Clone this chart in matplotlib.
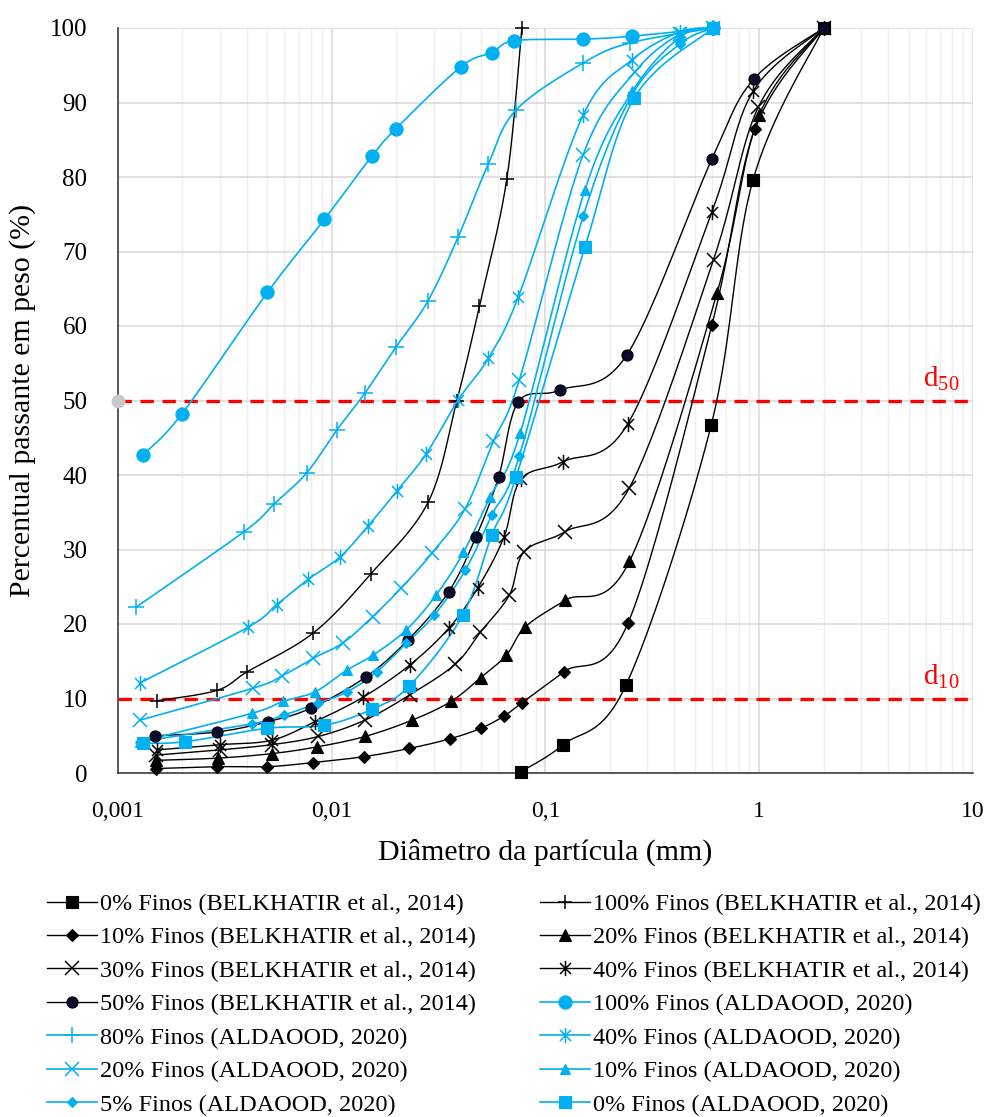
import numpy as np
import matplotlib
matplotlib.use("Agg")
import matplotlib.pyplot as plt
from matplotlib.lines import Line2D
from matplotlib.path import Path
from matplotlib.ticker import FixedLocator, LogLocator, NullFormatter

plt.rcParams['font.family'] = ['Liberation Serif', 'DejaVu Serif']
plt.rcParams['mathtext.fontset'] = 'custom'
plt.rcParams['mathtext.rm'] = 'Liberation Serif'
plt.rcParams['mathtext.it'] = 'Liberation Serif:italic'

BLUE = '#00B0F0'
BLACK = '#000000'
NAVY = '#0B0B2E'

# ---------------- data (diameter mm, % passing) ----------------
b0_x = [0.077, 0.121, 0.238, 0.596, 0.935, 2.0]
b0_y = [0.2, 3.8, 11.8, 46.7, 79.6, 100]

b10_x = [0.0015, 0.0029, 0.005, 0.0082, 0.0142, 0.0231, 0.0358, 0.0498, 0.064, 0.0774, 0.122, 0.243, 0.600, 0.957, 2.0]
b10_y = [0.6, 0.85, 0.85, 1.4, 2.2, 3.3, 4.6, 6.0, 7.65, 9.4, 13.6, 20.1, 60.1, 86.5, 100]

b20_x = [0.00151, 0.00294, 0.00524, 0.00851, 0.0143, 0.0238, 0.0361, 0.0498, 0.0655, 0.0804, 0.1236, 0.247, 0.634, 1.0, 2.0]
b20_y = [1.7, 2.0, 2.6, 3.5, 4.9, 7.1, 9.6, 12.8, 15.8, 19.6, 23.2, 28.4, 64.4, 88.3, 100]

b30_x = [0.00151, 0.0030, 0.00524, 0.00865, 0.0143, 0.0232, 0.0378, 0.0496, 0.0678, 0.0794, 0.1236, 0.246, 0.611, 0.991, 2.0]
b30_y = [2.4, 3.1, 3.8, 4.9, 7.1, 10.5, 14.6, 18.9, 23.9, 29.7, 32.4, 38.2, 68.9, 89.4, 100]

b40_x = [0.00152, 0.0030, 0.00524, 0.00836, 0.01406, 0.0232, 0.0352, 0.0481, 0.064, 0.0767, 0.1213, 0.243, 0.600, 0.936, 2.0]
b40_y = [3.1, 3.8, 4.4, 6.9, 10.2, 14.5, 19.4, 24.8, 31.7, 39.4, 41.8, 46.9, 75.3, 91.5, 100]

b50_x = [0.00149, 0.0029, 0.00505, 0.00798, 0.01446, 0.0228, 0.0352, 0.0473, 0.0603, 0.0746, 0.117, 0.240, 0.600, 0.94, 2.0]
b50_y = [5.0, 5.5, 6.9, 8.7, 12.9, 17.9, 24.3, 31.7, 39.7, 49.8, 51.4, 56.1, 82.4, 93.1, 100]

b100_x = [0.00153, 0.00291, 0.00403, 0.0082, 0.0152, 0.0283, 0.0385, 0.0491, 0.0659, 0.0775]
b100_y = [9.7, 11.1, 13.6, 18.8, 26.7, 36.4, 50.0, 62.7, 79.7, 100]

a100_x = [0.00131, 0.00199, 0.0050, 0.00923, 0.0154, 0.0200, 0.0402, 0.0560, 0.0716, 0.150, 0.253, 0.61]
a100_y = [42.7, 48.2, 64.5, 74.3, 82.8, 86.5, 94.8, 96.7, 98.3, 98.5, 98.9, 100]

a80_x = [0.00122, 0.00389, 0.00537, 0.00764, 0.0106, 0.0143, 0.0200, 0.0281, 0.0391, 0.0541, 0.0728, 0.150, 0.249, 0.61]
a80_y = [22.3, 32.4, 36.1, 40.3, 46.1, 51.0, 57.2, 63.3, 72.0, 81.8, 89.0, 95.3, 98.0, 100]

a40_x = [0.00127, 0.00407, 0.00553, 0.00776, 0.01094, 0.01472, 0.0201, 0.0276, 0.0391, 0.0541, 0.0746, 0.150, 0.253, 0.427, 0.61]
a40_y = [12.1, 19.6, 22.6, 26.0, 29.0, 33.1, 37.8, 42.8, 50.1, 55.7, 63.9, 88.3, 95.7, 99.5, 100]

a20_x = [0.00127, 0.0043, 0.00583, 0.0082, 0.01133, 0.01556, 0.0211, 0.0294, 0.0421, 0.0570, 0.0755, 0.150, 0.262, 0.427, 0.61]
a20_y = [7.1, 11.4, 13.0, 15.4, 17.5, 21.0, 24.8, 29.5, 35.5, 44.5, 52.8, 83.0, 94.1, 99.2, 100]

a10_x = [0.00127, 0.00422, 0.0059, 0.00836, 0.01175, 0.01556, 0.0223, 0.0308, 0.0413, 0.0551, 0.0761, 0.153, 0.255, 0.427, 0.61]
a10_y = [4.2, 8.0, 9.6, 10.9, 13.8, 15.8, 19.2, 23.9, 29.6, 37.1, 45.6, 78.3, 91.5, 98.8, 100]

a5_x = [0.00127, 0.00422, 0.0060, 0.00865, 0.01183, 0.01626, 0.0223, 0.0302, 0.0421, 0.0560, 0.0755, 0.150, 0.254, 0.427, 0.61]
a5_y = [4.2, 6.6, 7.8, 9.4, 10.9, 13.6, 17.4, 21.2, 27.2, 34.6, 42.6, 74.7, 91.0, 97.9, 100]

a0_x = [0.00131, 0.00206, 0.00497, 0.0092, 0.0154, 0.0231, 0.0410, 0.0560, 0.0728, 0.153, 0.260, 0.61]
a0_y = [4.0, 4.2, 6.0, 6.4, 8.55, 11.7, 21.2, 31.9, 39.7, 70.6, 90.6, 100]

stray_x = [0.001]
stray_y = [50]

ref_levels = [50, 10]
ref_labels = ['50', '10']

x_ticks = [0.001, 0.01, 0.1, 1, 10]
x_tick_labels = ['0,001', '0,01', '0,1', '1', '10']
y_ticks = list(range(0, 101, 10))

# asterisk marker (vertical bar + x)
AST = Path([(0, -1), (0, 1), (-0.72, -0.72), (0.72, 0.72), (-0.72, 0.72), (0.72, -0.72)],
           [Path.MOVETO, Path.LINETO, Path.MOVETO, Path.LINETO, Path.MOVETO, Path.LINETO])

series = [
    (b0_x, b0_y, '0% Finos (BELKHATIR et al., 2014)', BLACK, 's', 8, BLACK),
    (b100_x, b100_y, '100% Finos (BELKHATIR et al., 2014)', BLACK, '+', 10, BLACK),
    (b10_x, b10_y, '10% Finos (BELKHATIR et al., 2014)', BLACK, 'D', 6, BLACK),
    (b20_x, b20_y, '20% Finos (BELKHATIR et al., 2014)', BLACK, '^', 9, BLACK),
    (b30_x, b30_y, '30% Finos (BELKHATIR et al., 2014)', BLACK, 'x', 10, BLACK),
    (b40_x, b40_y, '40% Finos (BELKHATIR et al., 2014)', BLACK, AST, 11, BLACK),
    (b50_x, b50_y, '50% Finos (BELKHATIR et al., 2014)', BLACK, 'o', 8, NAVY),
    (a100_x, a100_y, '100% Finos (ALDAOOD, 2020)', BLUE, 'o', 9.5, BLUE),
    (a80_x, a80_y, '80% Finos (ALDAOOD, 2020)', BLUE, '+', 11, BLUE),
    (a40_x, a40_y, '40% Finos (ALDAOOD, 2020)', BLUE, AST, 11, BLUE),
    (a20_x, a20_y, '20% Finos (ALDAOOD, 2020)', BLUE, 'x', 10, BLUE),
    (a10_x, a10_y, '10% Finos (ALDAOOD, 2020)', BLUE, '^', 7.5, BLUE),
    (a5_x, a5_y, '5% Finos (ALDAOOD, 2020)', BLUE, 'D', 5, BLUE),
    (a0_x, a0_y, '0% Finos (ALDAOOD, 2020)', BLUE, 's', 8.5, BLUE),
]


def smooth(xs, ys, n=24):
    u = np.log10(np.asarray(xs, float))
    v = np.asarray(ys, float)
    P = np.column_stack([u, v])
    P = np.vstack([P[0], P, P[-1]])
    t = np.linspace(0, 1, n)[:, None]
    segs = []
    for i in range(1, len(P) - 2):
        p0, p1, p2, p3 = P[i - 1], P[i], P[i + 1], P[i + 2]
        c1 = p1 + (p2 - p0) / 6.0
        c2 = p2 - (p3 - p1) / 6.0
        seg = (1 - t) ** 3 * p1 + 3 * (1 - t) ** 2 * t * c1 + 3 * (1 - t) * t ** 2 * c2 + t ** 3 * p2
        segs.append(seg if i == 1 else seg[1:])
    S = np.vstack(segs)
    return 10 ** S[:, 0], S[:, 1]


W, H = 995, 1117
fig = plt.figure(figsize=(W / 100, H / 100), dpi=100)
ax = fig.add_axes([118 / W, 1 - 773 / H, (973 - 118) / W, (773 - 28) / H])
ax.set_xscale('log')
ax.set_xlim(0.001, 10)
ax.set_ylim(0, 100)

# grid
ax.xaxis.set_major_locator(FixedLocator(x_ticks))
ax.xaxis.set_minor_locator(LogLocator(base=10, subs=np.arange(2, 10)))
ax.xaxis.set_minor_formatter(NullFormatter())
ax.set_xticks(x_ticks)
ax.set_xticklabels(x_tick_labels)
ax.set_yticks(y_ticks)
ax.grid(which='major', axis='both', color='#D9D9D9', lw=1.1, zorder=0)
ax.grid(which='minor', axis='x', color='#EEEEEE', lw=1.0, zorder=0)
ax.set_axisbelow(True)
ax.tick_params(which='both', length=0)
ax.tick_params(axis='x', labelsize=17, pad=20)
ax.tick_params(axis='y', labelsize=18, pad=22)
for s in ['top', 'right']:
    ax.spines[s].set_visible(False)
for s in ['left', 'bottom']:
    ax.spines[s].set_color('#404040')
    ax.spines[s].set_linewidth(1.2)

# reference lines
for lvl, lab in zip(ref_levels, ref_labels):
    ax.axhline(lvl, color='#FF0000', lw=2.4, ls=(0, (4, 2.6)), zorder=1.5)
    ax.text(5.85, lvl + 1.8, r'$\mathrm{d}_{\mathrm{' + lab + '}}$', color='#FF0000',
            fontsize=21, ha='left', va='baseline')

handles = {}
for i, (xs, ys, lab, col, mk, ms, fc) in enumerate(series):
    sx, sy = smooth(xs, ys)
    lw = 1.0 if col == BLACK else 1.2
    ax.plot(sx, sy, color=col, lw=lw, zorder=2 + i * 0.01, clip_on=False)
    mew = 1.1 if mk in ('x', '+') or mk is AST else 0.8
    ax.plot(xs, ys, ls='none', marker=mk, ms=ms, mfc=fc, mec=col, mew=mew,
            zorder=3 + i * 0.01, clip_on=False)
    handles[lab] = Line2D([], [], color=col, lw=lw, marker=mk, ms=ms, mfc=fc, mec=col, mew=mew)

ax.plot(stray_x, stray_y, ls='none', marker='o', ms=9, mfc='#C8C8C8', mec='#C8C8C8',
        clip_on=False, zorder=4)

fig.text(545.5 / W, 1 - 852 / H, 'Diâmetro da partícula (mm)', fontsize=21.5,
         ha='center', va='center')
fig.text(23 / W, 1 - 400 / H, 'Percentual passante em peso (%)', fontsize=21.5,
         ha='center', va='center', rotation=90)

labels = [s[2] for s in series]
col1 = labels[0::2]
col2 = labels[1::2]
for cl, x0 in ((col1, 47), (col2, 540)):
    fig.legend([handles[l] for l in cl], cl, loc='upper left',
               bbox_to_anchor=(x0 / W, 1 - 893 / H), frameon=False, fontsize=17.5,
               handlelength=2.05, handletextpad=0.15, labelspacing=0.47,
               borderpad=0, borderaxespad=0)

fig.savefig('out.png', dpi=100)
